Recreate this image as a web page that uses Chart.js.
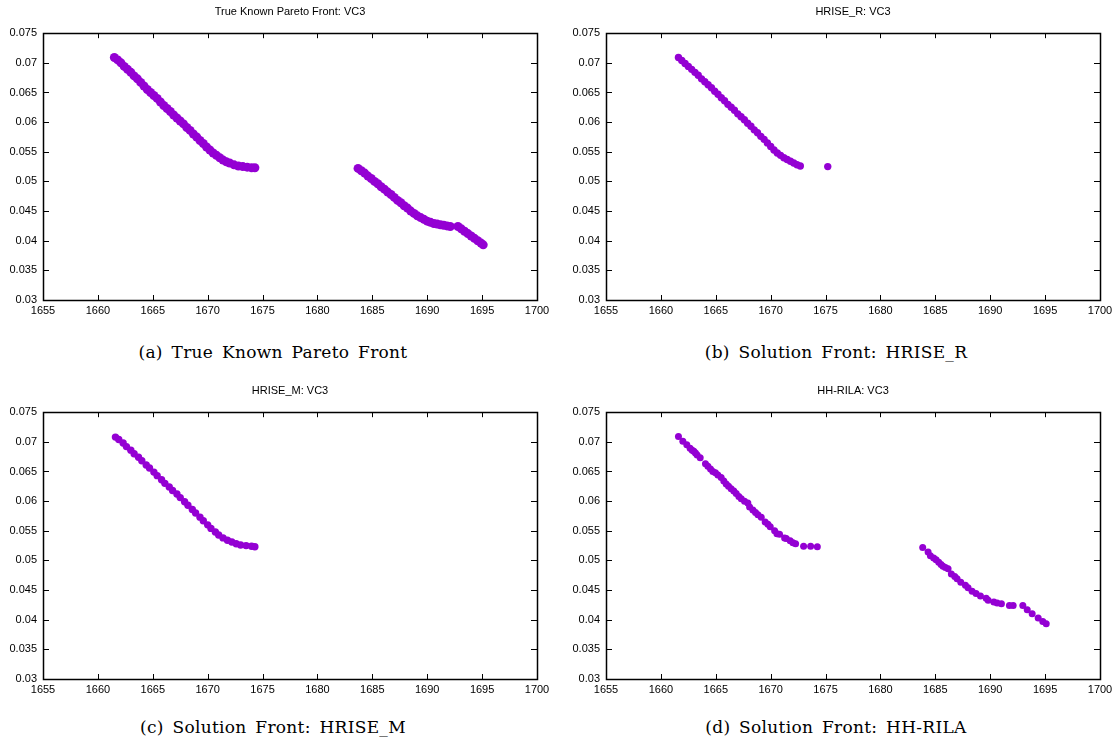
<!DOCTYPE html>
<html>
<head>
<meta charset="utf-8">
<script src="https://cdn.jsdelivr.net/npm/chart.js@4.4.1/dist/chart.umd.min.js"></script>
<style>
  body { margin: 0; background: #fff; }
  #wrap { position: relative; width: 1120px; height: 746px; }
  canvas { position: absolute; }
  .cap {
    position: absolute; width: 546px; text-align: center;
    font-family: "DejaVu Serif", "Liberation Serif", serif; font-size: 17px; color: #000;
    word-spacing: 3px; letter-spacing: 0.3px;
  }
</style>
</head>
<body>
<div id="wrap">
  <canvas id="chartA" width="560" height="320" style="left:0;top:0"></canvas>
  <canvas id="chartB" width="557" height="320" style="left:563px;top:0"></canvas>
  <canvas id="chartC" width="560" height="320" style="left:0;top:379px"></canvas>
  <canvas id="chartD" width="557" height="320" style="left:563px;top:379px"></canvas>
  <div class="cap" style="left:0;top:342px">(a) True Known Pareto Front</div>
  <div class="cap" style="left:563px;top:342px">(b) Solution Front: HRISE_R</div>
  <div class="cap" style="left:0;top:717px">(c) Solution Front: HRISE_M</div>
  <div class="cap" style="left:563px;top:717px">(d) Solution Front: HH-RILA</div>
</div>
<script>
// axis ticks (same for all four panels)
const xTicks = [1655, 1660, 1665, 1670, 1675, 1680, 1685, 1690, 1695, 1700];
const yTicks = [0.03, 0.035, 0.04, 0.045, 0.05, 0.055, 0.06, 0.065, 0.07, 0.075];

// (a) true known front, three pieces
const trueAX = [1661.5, 1661.8, 1662.1, 1662.4, 1662.7, 1663.0, 1663.3, 1663.6, 1663.9, 1664.2,
  1664.5, 1664.8, 1665.1, 1665.4, 1665.7, 1666.0, 1666.3, 1666.6, 1666.9, 1667.2,
  1667.5, 1667.8, 1668.1, 1668.4, 1668.7, 1669.0, 1669.3, 1669.6, 1669.9, 1670.2,
  1670.5, 1670.8, 1671.1, 1671.4, 1671.7, 1672.0, 1672.4, 1672.8, 1673.2, 1673.6, 1674.0, 1674.3];
const trueAY = [0.0709, 0.0705, 0.0700, 0.0694, 0.0689, 0.0684, 0.0678, 0.0673, 0.0667, 0.0661,
  0.0655, 0.0650, 0.0645, 0.0640, 0.0634, 0.0628, 0.0623, 0.0618, 0.0612, 0.0607,
  0.0602, 0.0597, 0.0591, 0.0586, 0.0580, 0.0575, 0.0569, 0.0564, 0.0558, 0.0553,
  0.0548, 0.0544, 0.0540, 0.0536, 0.0533, 0.0531, 0.0528, 0.0526, 0.0525, 0.0524, 0.0523, 0.0523];
const trueBX = [1683.7, 1684.0, 1684.3, 1684.6, 1684.9, 1685.2, 1685.5, 1685.8, 1686.1, 1686.4,
  1686.7, 1687.0, 1687.3, 1687.6, 1687.9, 1688.2, 1688.5, 1688.8, 1689.1, 1689.4,
  1689.7, 1690.0, 1690.3, 1690.6, 1690.9, 1691.2, 1691.5, 1691.8, 1692.1];
const trueBY = [0.0522, 0.0518, 0.0514, 0.0509, 0.0505, 0.0500, 0.0496, 0.0491, 0.0487, 0.0482,
  0.0478, 0.0473, 0.0468, 0.0464, 0.0459, 0.0455, 0.0450, 0.0446, 0.0442, 0.0439,
  0.0436, 0.0433, 0.0431, 0.0429, 0.0428, 0.0427, 0.0426, 0.0425, 0.0424];
const trueCX = [1692.8, 1693.1, 1693.4, 1693.7, 1694.0, 1694.3, 1694.6, 1694.9, 1695.1];
const trueCY = [0.0424, 0.0420, 0.0416, 0.0412, 0.0408, 0.0404, 0.0400, 0.0396, 0.0393];

// (b) HRISE_R
const hriseRX = [1661.6, 1661.9, 1662.2, 1662.5, 1662.8, 1663.1, 1663.4, 1663.7, 1664.0, 1664.3,
  1664.6, 1664.9, 1665.2, 1665.5, 1665.8, 1666.1, 1666.4, 1666.7, 1667.0, 1667.3,
  1667.6, 1667.9, 1668.2, 1668.5, 1668.8, 1669.1, 1669.4, 1669.7, 1670.0, 1670.3,
  1670.6, 1670.9, 1671.2, 1671.5, 1671.8, 1672.1, 1672.4, 1672.7, 1675.2];
const hriseRY = [0.0709, 0.0704, 0.0699, 0.0694, 0.0689, 0.0684, 0.0679, 0.0673, 0.0668, 0.0663,
  0.0658, 0.0652, 0.0647, 0.0641, 0.0636, 0.0630, 0.0625, 0.0620, 0.0614, 0.0609,
  0.0604, 0.0598, 0.0593, 0.0587, 0.0582, 0.0576, 0.0571, 0.0565, 0.0559, 0.0553,
  0.0548, 0.0544, 0.0540, 0.0537, 0.0534, 0.0531, 0.0528, 0.0526, 0.0525];

// (c) HRISE_M
const hriseMX = [1661.6, 1661.9, 1662.3, 1662.6, 1663.0, 1663.3, 1663.7, 1664.0, 1664.4, 1664.7,
  1665.1, 1665.4, 1665.8, 1666.1, 1666.5, 1666.8, 1667.2, 1667.5, 1667.9, 1668.2,
  1668.6, 1668.9, 1669.3, 1669.6, 1670.0, 1670.3, 1670.7, 1671.0, 1671.4, 1671.8,
  1672.2, 1672.6, 1673.0, 1673.5, 1674.0, 1674.3];
const hriseMY = [0.0708, 0.0704, 0.0698, 0.0692, 0.0686, 0.0680, 0.0674, 0.0668, 0.0661, 0.0656,
  0.0649, 0.0643, 0.0636, 0.0630, 0.0624, 0.0618, 0.0612, 0.0606, 0.0599, 0.0593,
  0.0586, 0.0580, 0.0573, 0.0567, 0.0560, 0.0554, 0.0548, 0.0543, 0.0538, 0.0534,
  0.0531, 0.0528, 0.0526, 0.0525, 0.0524, 0.0523];

// (d) HH-RILA
const rilaX = [1661.6, 1662.0, 1662.36, 1662.66, 1662.85, 1663.0, 1663.15, 1663.3, 1663.58, 1664.06,
  1664.28, 1664.52, 1664.73, 1664.97, 1665.19, 1665.49, 1665.73, 1665.95, 1666.16, 1666.4,
  1666.64, 1666.86, 1667.1, 1667.32, 1667.62, 1667.92, 1668.08, 1668.38, 1668.62, 1668.84,
  1669.14, 1669.5, 1669.75, 1669.96, 1670.36, 1670.57, 1670.81, 1671.27, 1671.42, 1671.78,
  1672.03, 1672.27, 1673.0, 1673.64, 1674.25,
  1683.85, 1684.34, 1684.55, 1684.85, 1685.07, 1685.31, 1685.52, 1685.7, 1685.92, 1686.16,
  1686.46, 1686.77, 1686.98, 1687.32, 1687.74, 1687.98, 1688.35, 1688.71, 1689.11, 1689.63,
  1689.81, 1690.33, 1690.63, 1691.02, 1691.75, 1692.09, 1692.97, 1693.37, 1693.82, 1694.37,
  1694.79, 1695.1];
const rilaY = [0.0709, 0.0701, 0.0695, 0.0689, 0.0686, 0.0684, 0.0681, 0.0678, 0.0673, 0.0663,
  0.0659, 0.0654, 0.0650, 0.0648, 0.0644, 0.0640, 0.0634, 0.0629, 0.0625, 0.0621,
  0.0617, 0.0613, 0.0608, 0.0604, 0.0600, 0.0597, 0.0590, 0.0585, 0.0581, 0.0577,
  0.0573, 0.0565, 0.0561, 0.0557, 0.0550, 0.0545, 0.0544, 0.0538, 0.0537, 0.0533,
  0.0530, 0.0528, 0.0524, 0.0524, 0.0523,
  0.0522, 0.0514, 0.0508, 0.0504, 0.0501, 0.0497, 0.0493, 0.0490, 0.0488, 0.0486,
  0.0477, 0.0473, 0.0469, 0.0463, 0.0458, 0.0454, 0.0448, 0.0444, 0.0440, 0.0436,
  0.0433, 0.0430, 0.0428, 0.0427, 0.0424, 0.0424, 0.0424, 0.0417, 0.0410, 0.0403,
  0.0397, 0.0393];

const purple = '#9400d3';
const tickFont = { family: '"Liberation Sans", Arial, sans-serif', size: 11 };

function pts(xs, ys) {
  return xs.map((x, i) => ({ x: x, y: ys[i] }));
}

// gnuplot style frame with inward ticks on all four sides
const framePlugin = {
  id: 'frame',
  afterDraw(chart) {
    const ctx = chart.ctx;
    const a = chart.chartArea;
    const xs = chart.scales.x, ys = chart.scales.y;
    ctx.save();
    ctx.strokeStyle = '#000';
    ctx.lineWidth = 1;
    ctx.beginPath();
    xTicks.forEach(v => {
      const px = Math.round(xs.getPixelForValue(v)) + 0.5;
      ctx.moveTo(px, a.bottom); ctx.lineTo(px, a.bottom - 5);
      ctx.moveTo(px, a.top); ctx.lineTo(px, a.top + 5);
    });
    yTicks.forEach(v => {
      const py = Math.round(ys.getPixelForValue(v)) + 0.5;
      ctx.moveTo(a.left, py); ctx.lineTo(a.left + 6, py);
      ctx.moveTo(a.right, py); ctx.lineTo(a.right - 6, py);
    });
    ctx.stroke();
    ctx.lineWidth = 1.5;
    ctx.strokeRect(Math.round(a.left) + 0.5, Math.round(a.top) + 0.5,
      Math.round(a.right - a.left), Math.round(a.bottom - a.top));
    ctx.restore();
  }
};

function makeChart(id, title, sets, radius, rightPad) {
  new Chart(document.getElementById(id), {
    type: 'scatter',
    data: {
      datasets: sets.map(s => ({
        data: s,
        backgroundColor: purple,
        borderWidth: 0,
        pointRadius: radius,
        pointHoverRadius: radius
      }))
    },
    options: {
      responsive: false,
      animation: false,
      layout: { padding: { left: 0, right: rightPad, top: 0, bottom: 0 } },
      plugins: {
        legend: { display: false },
        tooltip: { enabled: false },
        title: {
          display: true,
          text: title,
          fullSize: false,
          color: '#000',
          font: { family: tickFont.family, size: 11, weight: 'normal' },
          padding: { top: 5, bottom: 15 }
        }
      },
      scales: {
        x: {
          type: 'linear',
          min: 1655, max: 1700,
          grid: { display: false, drawTicks: false },
          border: { display: false },
          afterBuildTicks: s => { s.ticks = xTicks.map(v => ({ value: v })); },
          afterFit: s => { s.height = 20; },
          ticks: { color: '#000', font: tickFont, padding: 4, maxRotation: 0,
            callback: v => String(v) }
        },
        y: {
          type: 'linear',
          min: 0.03, max: 0.075,
          grid: { display: false, drawTicks: false },
          border: { display: false },
          afterBuildTicks: s => { s.ticks = yTicks.map(v => ({ value: v })); },
          afterFit: s => { s.width = 43; },
          ticks: { color: '#000', font: tickFont, padding: 6,
            callback: v => String(+v.toFixed(3)) }
        }
      }
    },
    plugins: [framePlugin]
  });
}

makeChart('chartA', 'True Known Pareto Front: VC3',
  [pts(trueAX, trueAY), pts(trueBX, trueBY), pts(trueCX, trueCY)], 4.5, 23);
makeChart('chartB', 'HRISE_R: VC3', [pts(hriseRX, hriseRY)], 3.7, 20);
makeChart('chartC', 'HRISE_M: VC3', [pts(hriseMX, hriseMY)], 3.7, 23);
makeChart('chartD', 'HH-RILA: VC3', [pts(rilaX, rilaY)], 3.5, 20);
</script>
</body>
</html>
